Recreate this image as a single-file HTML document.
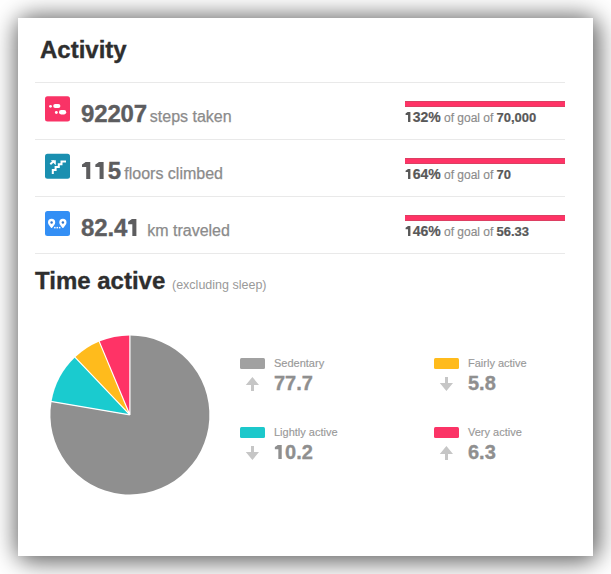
<!DOCTYPE html>
<html><head><meta charset="utf-8">
<style>
html,body{margin:0;padding:0;width:611px;height:574px;overflow:hidden;background:#fff;}
body{position:relative;font-family:"Liberation Sans",sans-serif;}
.shad{position:absolute;left:18px;top:18px;width:575px;height:538px;border-radius:12px;
  box-shadow:2px 2px 23px 4px rgba(0,0,0,0.62);}
.card{position:absolute;left:18px;top:18px;width:575px;height:538px;background:#fff;}
.t{position:absolute;white-space:nowrap;line-height:1;}
.sep{position:absolute;left:35px;width:530px;height:1px;background:#e9e9e9;}
.bar{position:absolute;left:405px;width:160px;height:6px;background:#ff3366;box-shadow:inset 0 1px 0 #dc3f62,inset 0 -1px 0 #dc3f62;}
.h1{font-size:24px;font-weight:700;color:#2e2e2e;-webkit-text-stroke:0.35px #2e2e2e;}
.num{font-size:24px;font-weight:700;color:#5d5d5f;-webkit-text-stroke:0.35px #5d5d5f;letter-spacing:-0.15px;}
.unit{font-size:16px;color:#8b8b8b;-webkit-text-stroke:0.25px #8b8b8b;}
.pct{font-size:14px;font-weight:700;color:#585858;-webkit-text-stroke:0.2px #585858;}
.gof{font-size:12px;color:#8b8b8b;-webkit-text-stroke:0.15px #8b8b8b;}
.gv{font-size:13px;font-weight:700;color:#585858;-webkit-text-stroke:0.2px #585858;}
.lab{font-size:11px;color:#999;-webkit-text-stroke:0.15px #999;}
.val{font-size:20px;font-weight:700;color:#8f8f8f;-webkit-text-stroke:0.35px #8f8f8f;}
.one{display:inline-block;width:0.556em;height:0.74em;background:currentColor;clip-path:polygon(69.5% 0,69.5% 100%,39% 100%,39% 31%,7.5% 31%,7.5% 17%,25% 8%,39% 0);}
.sw{position:absolute;width:25px;height:11px;border-radius:1.5px;}
</style></head>
<body>
<div class="shad"></div>
<div class="card"></div>

<div class="t h1" style="left:40px;top:37.6px">Activity</div>

<div class="sep" style="top:82px"></div>
<div class="sep" style="top:139px"></div>
<div class="sep" style="top:196px"></div>
<div class="sep" style="top:253px"></div>

<svg style="position:absolute;left:0;top:0" width="611" height="574" viewBox="0 0 611 574">
  <!-- steps icon -->
  <rect x="45" y="96.2" width="25" height="25.2" rx="2.5" fill="#f93366"/>
  <g fill="#fff">
    <circle cx="50.5" cy="106.3" r="1.4"/>
    <rect x="53.2" y="104" width="7.2" height="4.1" rx="2" ry="2"/>
    <circle cx="56.35" cy="112.45" r="1.45"/>
    <rect x="59" y="110.1" width="7.2" height="4.3" rx="2.1" ry="2.1"/>
  </g>
  <!-- floors icon -->
  <rect x="45" y="153.8" width="25" height="25" rx="2.5" fill="#1a8fb0"/>
  <path d="M52.8 174 V170 H55.6 V167 H58.8 V164.3 H61.5 V161.5 H66" fill="none" stroke="#fff" stroke-width="2" stroke-linejoin="miter"/>
  <path d="M50.8 160.3 H55.8 V165.3 Z" fill="#fff"/>
  <path d="M50.3 164.3 L54 160.8" stroke="#fff" stroke-width="2"/>
  <!-- distance icon -->
  <rect x="45" y="210.9" width="25" height="25" rx="2.5" fill="#338ff5"/>
  <g fill="#fff">
    <path d="M51.6 218.8 a3.6 3.6 0 0 1 3.6 3.6 c0 2 -2 3.6 -3.3 5.6 h-0.6 c-1.3 -2 -3.3 -3.6 -3.3 -5.6 a3.6 3.6 0 0 1 3.6 -3.6 z"/>
    <path d="M62.9 218.8 a3.6 3.6 0 0 1 3.6 3.6 c0 2 -2 3.6 -3.3 5.6 h-0.6 c-1.3 -2 -3.3 -3.6 -3.3 -5.6 a3.6 3.6 0 0 1 3.6 -3.6 z"/>
    <rect x="54.1" y="226.9" width="1.5" height="1.5"/>
    <rect x="56.5" y="226.9" width="1.5" height="1.5"/>
    <rect x="58.9" y="226.9" width="1.5" height="1.5"/>
  </g>
  <g fill="#2f76cc">
    <circle cx="51.6" cy="222.5" r="1.2"/>
    <circle cx="62.9" cy="222.5" r="1.2"/>
  </g>

  <!-- pie -->
  <g id="pie">
    <path d="M129.9 414.9 L129.90 335.40 A79.5 79.5 0 1 1 51.54 401.48 Z" fill="#8f8f8f"/>
    <path d="M129.9 414.9 L51.54 401.48 A79.5 79.5 0 0 1 75.12 357.29 Z" fill="#1acbcf"/>
    <path d="M129.9 414.9 L75.12 357.29 A79.5 79.5 0 0 1 99.25 341.55 Z" fill="#ffbb1c"/>
    <path d="M129.9 414.9 L99.25 341.55 A79.5 79.5 0 0 1 129.90 335.40 Z" fill="#ff3366"/>
    <path d="M129.9 414.9 L129.90 334.40 M129.9 414.9 L50.56 401.31 M129.9 414.9 L74.43 356.57 M129.9 414.9 L98.86 340.62" stroke="#fff" stroke-width="1.2" fill="none"/>
  </g>

  <!-- arrows -->
  <g fill="#c6c6c6">
    <path d="M252.4 377 L259 385 H254 V391 H251 V385 H245.8 Z"/>
    <path d="M446.4 391 L453 383 H448 V377 H445 V383 H439.8 Z"/>
    <path d="M252.4 460 L259 452 H254 V446 H251 V452 H245.8 Z"/>
    <path d="M446.4 446 L453 454 H448 V460 H445 V454 H439.8 Z"/>
  </g>
</svg>

<div class="t num" style="left:81px;top:102.18px">92207</div>
<div class="t unit" style="left:149.8px;top:108.66px">steps taken</div>
<div class="t num" style="left:81px;top:159.28px"><span class="one"></span><span class="one"></span>5</div>
<div class="t unit" style="left:124.3px;top:165.76px">floors climbed</div>
<div class="t num" style="left:81px;top:216.38px">82.4<span class="one"></span></div>
<div class="t unit" style="left:147.2px;top:222.86px">km traveled</div>

<div class="bar" style="top:101px"></div>
<div class="bar" style="top:158px"></div>
<div class="bar" style="top:215px"></div>

<div class="t pct" style="left:405px;top:110.15px"><span class="one"></span>32%</div>
<div class="t gof" style="left:444px;top:111.84px">of goal of</div>
<div class="t gv" style="left:496.5px;top:111.0px">70,000</div>
<div class="t pct" style="left:405px;top:167.25px"><span class="one"></span>64%</div>
<div class="t gof" style="left:444px;top:168.94px">of goal of</div>
<div class="t gv" style="left:496.5px;top:168.1px">70</div>
<div class="t pct" style="left:405px;top:224.35px"><span class="one"></span>46%</div>
<div class="t gof" style="left:444px;top:226.04px">of goal of</div>
<div class="t gv" style="left:496.5px;top:225.2px">56.33</div>

<div class="t h1" style="left:35px;top:268.68px">Time active</div>
<div class="t" style="left:172px;top:278.89px;font-size:12.5px;color:#999">(excluding sleep)</div>

<div class="sw" style="left:240px;top:358px;background:#a1a1a1"></div>
<div class="sw" style="left:240px;top:427px;background:#1cc8cb"></div>
<div class="sw" style="left:434px;top:358px;background:#ffbb1c"></div>
<div class="sw" style="left:434px;top:427px;background:#fb3466"></div>

<div class="t lab" style="left:274px;top:358.49px">Sedentary</div>
<div class="t lab" style="left:274px;top:427.49px">Lightly active</div>
<div class="t lab" style="left:468px;top:358.49px">Fairly active</div>
<div class="t lab" style="left:468px;top:427.49px">Very active</div>
<div class="t val" style="left:274px;top:373.37px">77.7</div>
<div class="t val" style="left:274px;top:442.37px"><span class="one"></span>0.2</div>
<div class="t val" style="left:468px;top:373.37px">5.8</div>
<div class="t val" style="left:468px;top:442.37px">6.3</div>

</body></html>
